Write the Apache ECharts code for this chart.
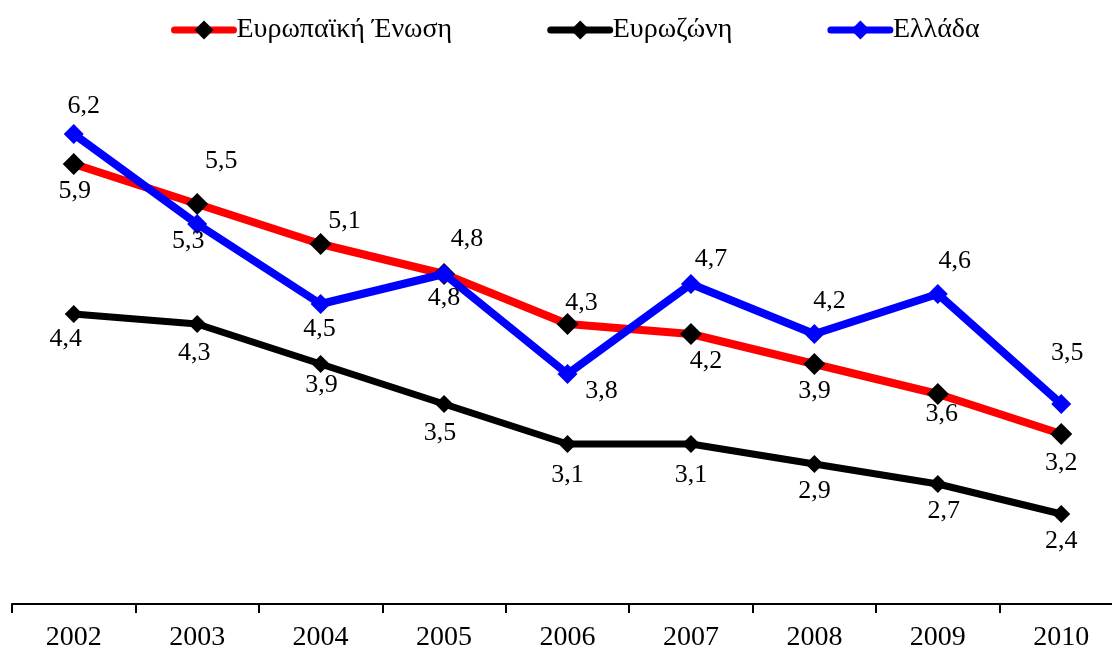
<!DOCTYPE html>
<html>
<head>
<meta charset="utf-8">
<script src="https://cdn.jsdelivr.net/npm/echarts@6/dist/echarts.min.js"></script>
<style>
  html, body { margin: 0; padding: 0; background: #fff; }
  #chart { width: 1112px; height: 652px; }
</style>
</head>
<body>
<div id="chart"></div>
<script>
var years = ['2002', '2003', '2004', '2005', '2006', '2007', '2008', '2009', '2010'];
var euValues = [5.9, 5.5, 5.1, 4.8, 4.3, 4.2, 3.9, 3.6, 3.2];
var euroValues = [4.4, 4.3, 3.9, 3.5, 3.1, 3.1, 2.9, 2.7, 2.4];
var greeceValues = [6.2, 5.3, 4.5, 4.8, 3.8, 4.7, 4.2, 4.6, 3.5];

// label offsets (px) from each point, to follow the original placement
var euOffsets = [[1, 27], [24, -43], [24, -23], [23, -35], [14, -21], [15, 27], [0, 27], [4, 20], [0, 29]];
var euroOffsets = [[-8, 25], [-3, 29], [1, 21], [-4, 29], [0, 31], [0, 31], [0, 27], [6, 27], [0, 27]];
var greeceOffsets = [[10, -28], [-9, 17], [-1, 25], [0, 24], [34, 17], [20, -25], [15, -33], [17, -33], [6, -51]];

var chart = echarts.init(document.getElementById('chart'));
var font = '"Liberation Serif", "Times New Roman", serif';

function fmt(v) {
    return String(v.toFixed(1)).replace('.', ',');
}

function buildData(values, offsets) {
    return values.map(function (v, i) {
        return {
            value: v,
            label: { offset: offsets[i] }
        };
    });
}

function labelStyle() {
    return {
        show: true,
        position: 'inside',
        align: 'center',
        verticalAlign: 'middle',
        fontFamily: font,
        fontSize: 26,
        color: '#000',
        formatter: function (p) { return fmt(p.value); }
    };
}

var option = {
    backgroundColor: '#fff',
    animation: false,
    legend: {
        top: 11,
        left: 166,
        itemWidth: 59,
        itemHeight: 24,
        itemGap: 95,
        lineStyle: { width: 7, cap: 'round' },
        data: ['Ευρωπαϊκή Ένωση', 'Ευρωζώνη', 'Ελλάδα'],
        textStyle: { fontFamily: font, fontSize: 28, color: '#000', padding: [0, 0, 0, -2] }
    },
    grid: { left: 12, width: 1111, top: 54, bottom: 48, outerBoundsMode: 'none' },
    xAxis: {
        type: 'category',
        data: years,
        boundaryGap: true,
        axisLine: { lineStyle: { color: '#000', width: 2 } },
        axisTick: { show: true, length: 9, lineStyle: { color: '#000', width: 2 } },
        axisLabel: { fontFamily: font, fontSize: 28, color: '#000', margin: 20 },
        splitLine: { show: false }
    },
    yAxis: {
        type: 'value',
        min: 1.5,
        max: 7,
        show: false,
        splitLine: { show: false }
    },
    series: [{
        name: 'Ευρωζώνη',
        type: 'line',
        z: 2,
        data: buildData(euroValues, euroOffsets),
        symbol: 'diamond',
        symbolSize: 18,
        lineStyle: { color: '#000', width: 7 },
        itemStyle: { color: '#000' },
        label: labelStyle()
    }, {
        name: 'Ευρωπαϊκή Ένωση',
        type: 'line',
        z: 3,
        data: buildData(euValues, euOffsets),
        symbol: 'diamond',
        symbolSize: 22,
        lineStyle: { color: '#ff0000', width: 8 },
        itemStyle: { color: '#000' },
        label: labelStyle()
    }, {
        name: 'Ελλάδα',
        type: 'line',
        z: 4,
        data: buildData(greeceValues, greeceOffsets),
        symbol: 'diamond',
        symbolSize: 20,
        lineStyle: { color: '#0000ff', width: 8 },
        itemStyle: { color: '#0000ff' },
        label: labelStyle()
    }]
};

chart.setOption(option);
</script>
</body>
</html>
